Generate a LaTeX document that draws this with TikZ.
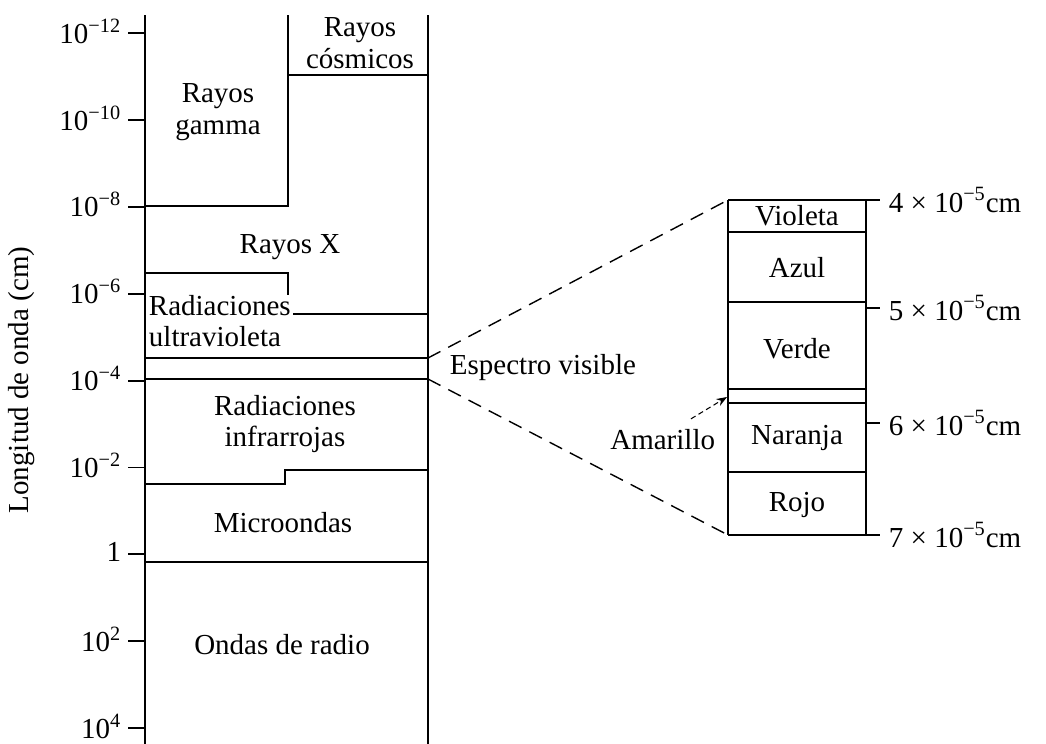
\documentclass[tikz,border=0pt]{standalone}
\usepackage{fontspec}
\setmainfont{Liberation Serif}
\usetikzlibrary{arrows.meta}

\begin{document}
\begin{tikzpicture}[x=0.02cm, y=-0.02cm, line width=1.1pt,
  font=\fontsize{16.5}{18}\selectfont]
\useasboundingbox (0,0) rectangle (1046,744);
\tikzstyle{every node}=[inner sep=0pt];
\tikzstyle{band}=[align=center];
\tikzstyle{tick}=[anchor=east];
\tikzstyle{scalelab}=[anchor=west];
\tikzstyle{zoomline}=[line width=0.8pt, dash pattern=on 8pt off 5pt];
\tikzstyle{pointer}=[line width=0.6pt, densely dashed, -{Stealth[length=6pt]}];
% wavelength scale
\node [rotate=90] (axis) at (22, 380) {Longitud de onda (cm)};
\foreach \lab [count=\i from 0] in {10\textsuperscript{−12}, 10\textsuperscript{−10},
  10\textsuperscript{−8}, 10\textsuperscript{−6}, 10\textsuperscript{−4},
  10\textsuperscript{−2}, 1, 10\textsuperscript{2}, 10\textsuperscript{4}} {
  \draw (128, 33+86.9*\i) -- (145, 33+86.9*\i);
  \node [tick] (t\i) at (122, 31+86.9*\i) {\lab};
}
% main column
\coordinate (visTop) at (428, 358);
\coordinate (visBot) at (428, 379);
\draw (145,15) -- (145,744)
(428,15) -- (428,744)
(288,15) -- (288,206) -- (145,206)
(288,75) -- (428,75)
(145,273) -- (288,273) -- (288,295)
(293,314) -- (428,314)
(145,358) -- (428,358)
(145,379) -- (428,379)
(145,484) -- (285,484) -- (285,470) -- (428,470)
(145,562) -- (428,562)
;
\node [band] (cosmic) at (360, 43) {Rayos\\cósmicos};
\node [band] (gamma) at (218, 112) {Rayos\\gamma};
\node [band] (xray) at (290, 247) {Rayos X};
\node [band, align=left, anchor=west] (uv) at (148, 321) {Radiaciones\\ultravioleta};
\node [band] (ir) at (285, 424) {Radiaciones\\infrarrojas};
\node [band] (micro) at (283, 523) {Microondas};
\node [band] (radio) at (282, 645) {Ondas de radio};
\node [anchor=west] (vis) at (449, 368) {Espectro visible};
% visible spectrum
\coordinate (boxTL) at (728, 200);
\coordinate (boxBL) at (728, 535);
\coordinate (amarTip) at (727, 397);
\draw [line width=1pt] (boxTL) -- (880,200)
(boxBL) -- (880,535)
(728,200) -- (728,535)
(866,200) -- (866,535)
(728,232) -- (866,232)
(728,302) -- (866,302)
(728,389) -- (866,389)
(728,403) -- (866,403)
(728,472) -- (866,472)
(866,308) -- (880,308)
(866,423) -- (880,423)
;
\node (violeta) at (797, 216) {Violeta};
\node (azul) at (797, 268) {Azul};
\node (verde) at (797, 349) {Verde};
\node (naranja) at (797, 438) {Naranja};
\node (rojo) at (797, 505) {Rojo};
\node [anchor=east] (amar) at (716, 440) {Amarillo};
\node [scalelab] (m4) at (888, 200) {4 × 10\textsuperscript{−5}cm};
\node [scalelab] (m5) at (888, 308) {5 × 10\textsuperscript{−5}cm};
\node [scalelab] (m6) at (888, 423) {6 × 10\textsuperscript{−5}cm};
\node [scalelab] (m7) at (888, 535) {7 × 10\textsuperscript{−5}cm};
\draw [zoomline] (visTop) -- (boxTL)
(visBot) -- (boxBL);
\draw [pointer] ([xshift=-0.5cm, yshift=0.2cm]amar.north east) -- (amarTip);
\end{tikzpicture}
\end{document}
